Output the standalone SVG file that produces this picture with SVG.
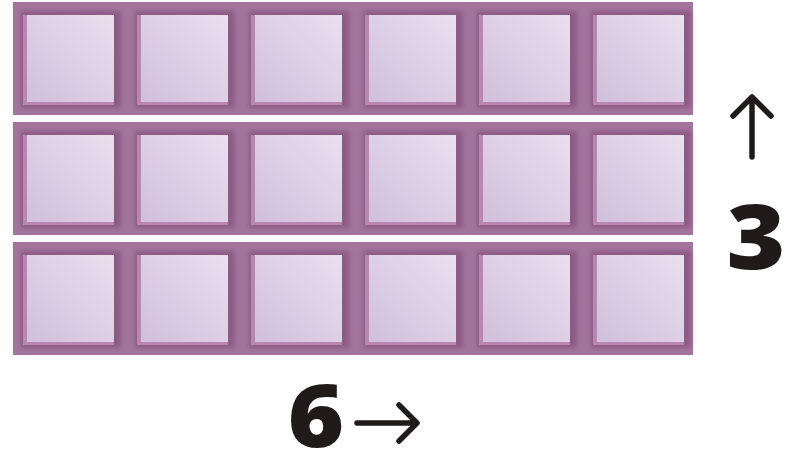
<svg xmlns="http://www.w3.org/2000/svg" width="797" height="456" viewBox="0 0 797 456">
<style>
.row{fill:#a3759d}
.bev{fill:#b985b1}
.shd{fill:#84507c;opacity:0.7}
.num{font-family:"Open Sans","Liberation Sans",sans-serif;font-weight:800;fill:#1f1b1b}
.arr{fill:none;stroke:#1f1b1b;stroke-width:5.5;stroke-linecap:round;stroke-linejoin:round}
</style>
<defs>
<linearGradient id="g" x1="0" y1="1" x2="1" y2="0">
<stop offset="0" stop-color="#d0bfdd"/>
<stop offset="1" stop-color="#ebdfee"/>
</linearGradient>
<filter id="blur" x="-20%" y="-20%" width="140%" height="140%">
<feGaussianBlur stdDeviation="2.5"/>
</filter>
<g id="sq">
<rect class="shd" x="-6" y="-4" width="100" height="97" filter="url(#blur)"/>
<rect class="bev" x="-4" y="0" width="91" height="90"/>
<rect x="0" y="0" width="87" height="87" fill="url(#g)"/>
</g>
<g id="rowg">
<rect class="row" x="13" y="2" width="680" height="113"/>
<use href="#sq" x="27" y="15"/>
<use href="#sq" x="141" y="15"/>
<use href="#sq" x="255" y="15"/>
<use href="#sq" x="369" y="15"/>
<use href="#sq" x="483" y="15"/>
<use href="#sq" x="597" y="15"/>
</g>
</defs>
<g id="row1"><use href="#rowg"/></g>
<g id="row2"><use href="#rowg" y="120"/></g>
<g id="row3"><use href="#rowg" y="240"/></g>
<g id="label3">
<path class="arr" d="M752 157 V99 M733 116 L752 97 L771 116"/>
<text class="num" transform="translate(756,269) scale(1.12,1)" font-size="90" text-anchor="middle">3</text>
</g>
<g id="label6">
<text class="num" transform="translate(316,447) scale(1.12,1)" font-size="86" text-anchor="middle">6</text>
<path class="arr" d="M357 423 H416 M399 405 L417 423 L399 441"/>
</g>
</svg>
